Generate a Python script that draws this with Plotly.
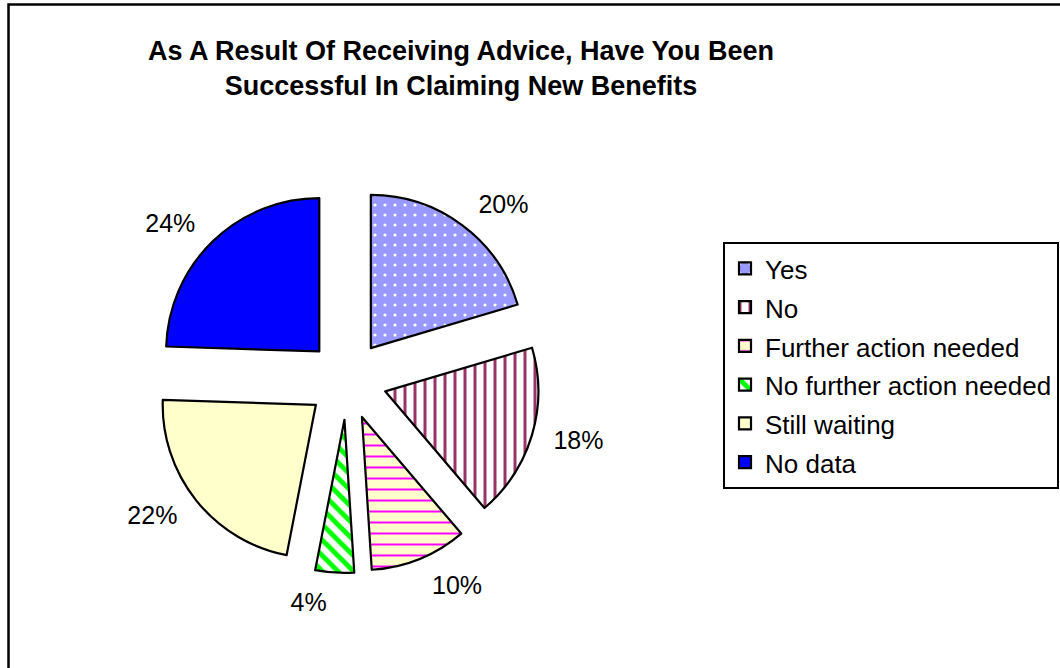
import plotly.graph_objects as go

# Survey responses (number of respondents per answer)
categories = ["Yes", "No", "Further action needed", "No further action needed",
              "Still waiting", "No data"]
counts = [10, 9, 5, 2, 11, 12]

fill_colors = ["#9999FF", "#FFFFFF", "#FFFFCC", "#FFFFFF", "#FFFFCC", "#0000FF"]
pattern_shapes = [".", "|", "-", "\\", "", ""]
pattern_fg = ["#FFFFFF", "#993366", "#FF00FF", "#00FF00", "#000000", "#000000"]
pattern_size = [10, 10, 11, 11, 8, 8]
pattern_solidity = [0.08, 0.3, 0.18, 0.45, 0.3, 0.3]

title_text = ("<b>As A Result Of Receiving Advice, Have You Been<br>"
              "Successful In Claiming New Benefits</b>")

W, H = 1060, 668
FONT = "Liberation Sans, Arial, sans-serif"

# pie centre and outer extent (pixels) of the exploded pie
CX, CY = 347, 380
EXTENT = 193
LABEL_EXTENT = 208   # the percentage labels sit a little further out
PULL = 0.26


def domain_for(extent):
    return dict(x=[(CX - extent) / W, (CX + extent) / W],
                y=[(H - CY - extent) / H, (H - CY + extent) / H])


# legend rows are spaced by the legend font size; the entry text itself is a bit smaller
legend_labels = ['<span style="font-size:26px">%s</span>' % c for c in categories]

# the slices themselves
slices = go.Pie(
    labels=legend_labels,
    values=counts,
    sort=False,
    direction="clockwise",
    rotation=0,
    pull=PULL,
    textinfo="none",
    marker=dict(
        colors=fill_colors,
        line=dict(color="#000000", width=2.2),
        pattern=dict(
            shape=pattern_shapes,
            fgcolor=pattern_fg,
            bgcolor=fill_colors,
            size=pattern_size,
            solidity=pattern_solidity,
            fillmode="replace",
        ),
    ),
    domain=domain_for(EXTENT),
    hoverinfo="percent",
)

# percentage labels, placed on a slightly larger transparent ring of the same values
labels_ring = go.Pie(
    labels=legend_labels,
    values=counts,
    sort=False,
    direction="clockwise",
    rotation=0,
    pull=PULL,
    texttemplate="%{percent:.0%}",
    textposition="outside",
    textfont=dict(family=FONT, size=25, color="#000000"),
    marker=dict(colors=["rgba(0,0,0,0)"] * len(counts), line=dict(width=0)),
    domain=domain_for(LABEL_EXTENT),
    showlegend=False,
    hoverinfo="skip",
)

fig = go.Figure([slices, labels_ring])

fig.update_layout(
    width=W,
    height=H,
    margin=dict(l=0, r=0, t=0, b=0, autoexpand=False),
    paper_bgcolor="#FFFFFF",
    plot_bgcolor="#FFFFFF",
    title=dict(
        text=title_text,
        font=dict(family=FONT, size=27, color="#000000"),
        x=461 / W,
        xanchor="center",
        y=1 - 60 / H,
        yanchor="top",
    ),
    legend=dict(
        x=723 / W,
        xanchor="left",
        y=1 - 242 / H,
        yanchor="top",
        bordercolor="#000000",
        borderwidth=2,
        bgcolor="#FFFFFF",
        font=dict(family=FONT, size=27.5, color="#000000"),
    ),
    shapes=[
        dict(
            type="rect",
            xref="paper",
            yref="paper",
            x0=8.5 / W,
            x1=1.05,
            y0=-0.05,
            y1=1 - 4.5 / H,
            line=dict(color="#000000", width=2.5),
            layer="below",
        )
    ],
)

fig.write_html("out.html")
